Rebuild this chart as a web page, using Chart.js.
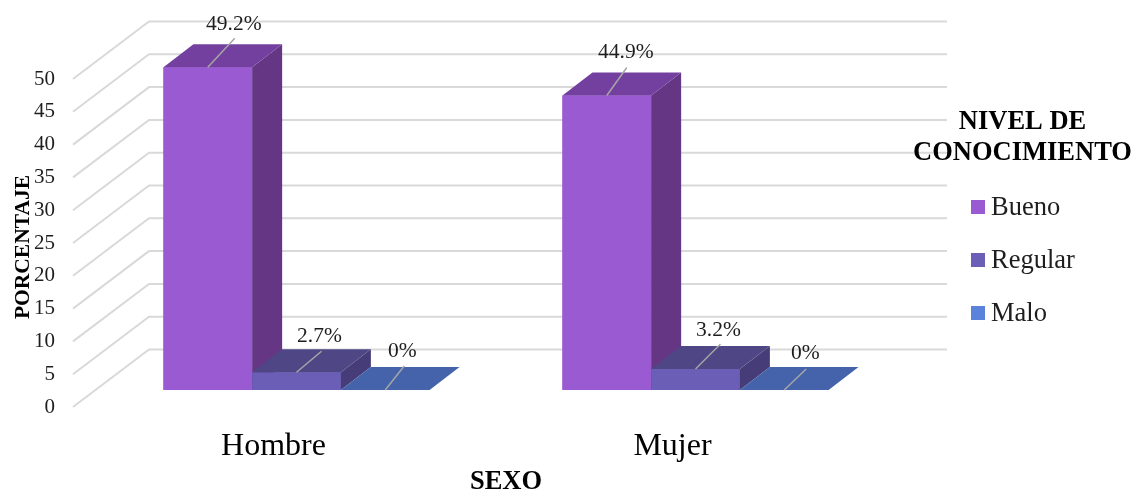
<!DOCTYPE html>
<html>
<head>
<meta charset="utf-8">
<style>
  html, body { margin: 0; padding: 0; background: #fff; }
  canvas { display: block; }
</style>
<script src="https://cdn.jsdelivr.net/npm/chart.js@4/dist/chart.umd.js"></script>
</head>
<body>
<canvas id="nivelChart" width="1135" height="491"></canvas>
<script>
// valores de la grafica
const categorias = ['Hombre', 'Mujer'];
const bueno = [49.2, 44.9];
const regular = [2.7, 3.2];
const malo = [0, 0];
const nombresSerie = ['Bueno', 'Regular', 'Malo'];
const tituloLeyenda = ['NIVEL DE', 'CONOCIMIENTO'];

// colores de cada cara de las barras
const colorFrente = ['#9A5AD2', '#6A5EB6', '#5B83DB'];
const colorLado = ['#643684', '#463D78', '#3A5A9E'];
const colorTapa = ['#74409F', '#4F4785', '#4463AA'];

const fuente = '"Liberation Serif", "Times New Roman", serif';
const colorTexto = '#1E1E1E';

// profundidad de las barras y de las paredes
const fondoBarra = { x: 30, y: -23 };
const pared = { izq: 73, fondo: 149, der: 947, frenteY: 17, fondoY: -40.5 };

// linea guia de cada etiqueta: [dx, dy] de la guia y [dx, dy] del texto, desde el centro de la barra
const guias = [
  [[27, -29, 26, -43], [20, -28, 19, -43]],
  [[25, -21, 23, -36], [25, -25, 23, -39]],
  [[19, -24, 17, -39], [22, -21, 21, -37]]
];

const paredes = {
  id: 'paredes',
  beforeDatasetsDraw(chart) {
    const { ctx, scales: { y } } = chart;
    ctx.save();
    ctx.strokeStyle = '#D9D9D9';
    ctx.lineWidth = 2;
    y.ticks.forEach(t => {
      const py = y.getPixelForValue(t.value);
      ctx.beginPath();
      ctx.moveTo(pared.izq, py + pared.frenteY);
      ctx.lineTo(pared.fondo, py + pared.fondoY);
      ctx.lineTo(pared.der, py + pared.fondoY);
      ctx.stroke();
    });
    ctx.restore();
  }
};

function cara(ctx, color, puntos) {
  ctx.fillStyle = color;
  ctx.beginPath();
  puntos.forEach((p, i) => i ? ctx.lineTo(p[0], p[1]) : ctx.moveTo(p[0], p[1]));
  ctx.closePath();
  ctx.fill();
}

const barras3d = {
  id: 'barras3d',
  afterDatasetsDraw(chart) {
    const { ctx } = chart;
    const dx = fondoBarra.x, dy = fondoBarra.y;
    ctx.save();
    // de izquierda a derecha: cada frente tapa el lado de la barra anterior
    chart.data.datasets.forEach((ds, d) => {
      chart.getDatasetMeta(d).data.forEach(bar => {
        const izq = bar.x - bar.width / 2, der = bar.x + bar.width / 2;
        const arriba = bar.y, abajo = bar.base;
        bar.draw(ctx);
        if (abajo > arriba) {
          cara(ctx, colorLado[d], [[der, arriba], [der + dx, arriba + dy], [der + dx, abajo + dy], [der, abajo]]);
        }
        cara(ctx, colorTapa[d], [[izq, arriba], [izq + dx, arriba + dy], [der + dx, arriba + dy], [der, arriba]]);
      });
    });
    ctx.restore();
  }
};

const etiquetas = {
  id: 'etiquetas',
  afterDraw(chart) {
    const { ctx } = chart;
    ctx.save();
    ctx.textAlign = 'center';
    ctx.textBaseline = 'middle';
    chart.data.datasets.forEach((ds, d) => {
      chart.getDatasetMeta(d).data.forEach((bar, i) => {
        const g = guias[d][i];
        ctx.strokeStyle = '#A6A6A6';
        ctx.lineWidth = 1.5;
        ctx.beginPath();
        ctx.moveTo(bar.x, bar.y);
        ctx.lineTo(bar.x + g[0], bar.y + g[1]);
        ctx.stroke();
        ctx.fillStyle = colorTexto;
        ctx.font = '21.5px ' + fuente;
        ctx.fillText(ds.data[i] + '%', bar.x + g[2], bar.y + g[3]);
      });
    });

    // titulos de los ejes
    ctx.fillStyle = '#000';
    ctx.font = 'bold 26.5px ' + fuente;
    ctx.fillText('SEXO', 506, 482);
    ctx.save();
    ctx.translate(23, 247);
    ctx.rotate(-Math.PI / 2);
    ctx.font = 'bold 21.5px ' + fuente;
    ctx.fillText('PORCENTAJE', 0, 0);
    ctx.restore();

    // leyenda a la derecha
    ctx.font = 'bold 26.5px ' + fuente;
    tituloLeyenda.forEach((linea, i) => ctx.fillText(linea, 1022.5, 122 + i * 31));
    ctx.textAlign = 'left';
    ctx.font = '26.5px ' + fuente;
    nombresSerie.forEach((nombre, i) => {
      const cy = 207 + i * 53;
      ctx.fillStyle = colorFrente[i];
      ctx.fillRect(971, cy - 7, 14, 14);
      ctx.fillStyle = colorTexto;
      ctx.fillText(nombre, 991, cy + 1);
    });
    ctx.restore();
  }
};

const ctx = document.getElementById('nivelChart').getContext('2d');
new Chart(ctx, {
  type: 'bar',
  data: {
    labels: categorias,
    datasets: [
      { label: nombresSerie[0], data: bueno, backgroundColor: colorFrente[0] },
      { label: nombresSerie[1], data: regular, backgroundColor: colorFrente[1] },
      { label: nombresSerie[2], data: malo, backgroundColor: colorFrente[2] }
    ]
  },
  options: {
    responsive: false,
    animation: false,
    events: [],
    layout: { padding: { top: 62, right: 240, bottom: 0, left: 0 } },
    plugins: { legend: { display: false }, tooltip: { enabled: false } },
    datasets: { bar: { barPercentage: 1, categoryPercentage: 0.667, minBarLength: 0 } },
    scales: {
      x: {
        afterFit(s) { s.height = 101; },
        grid: { display: false, drawTicks: false },
        border: { display: false },
        ticks: {
          color: '#000',
          font: { family: fuente, size: 32 },
          padding: 37,
          labelOffset: -23,
          maxRotation: 0
        }
      },
      y: {
        min: 0,
        max: 50,
        afterFit(s) { s.width = 97; },
        grid: { display: false, drawTicks: false },
        border: { display: false },
        ticks: {
          stepSize: 5,
          color: colorTexto,
          font: { family: fuente, size: 21 },
          padding: 42,
          labelOffset: 17
        }
      }
    }
  },
  plugins: [paredes, barras3d, etiquetas]
});
</script>
</body>
</html>
